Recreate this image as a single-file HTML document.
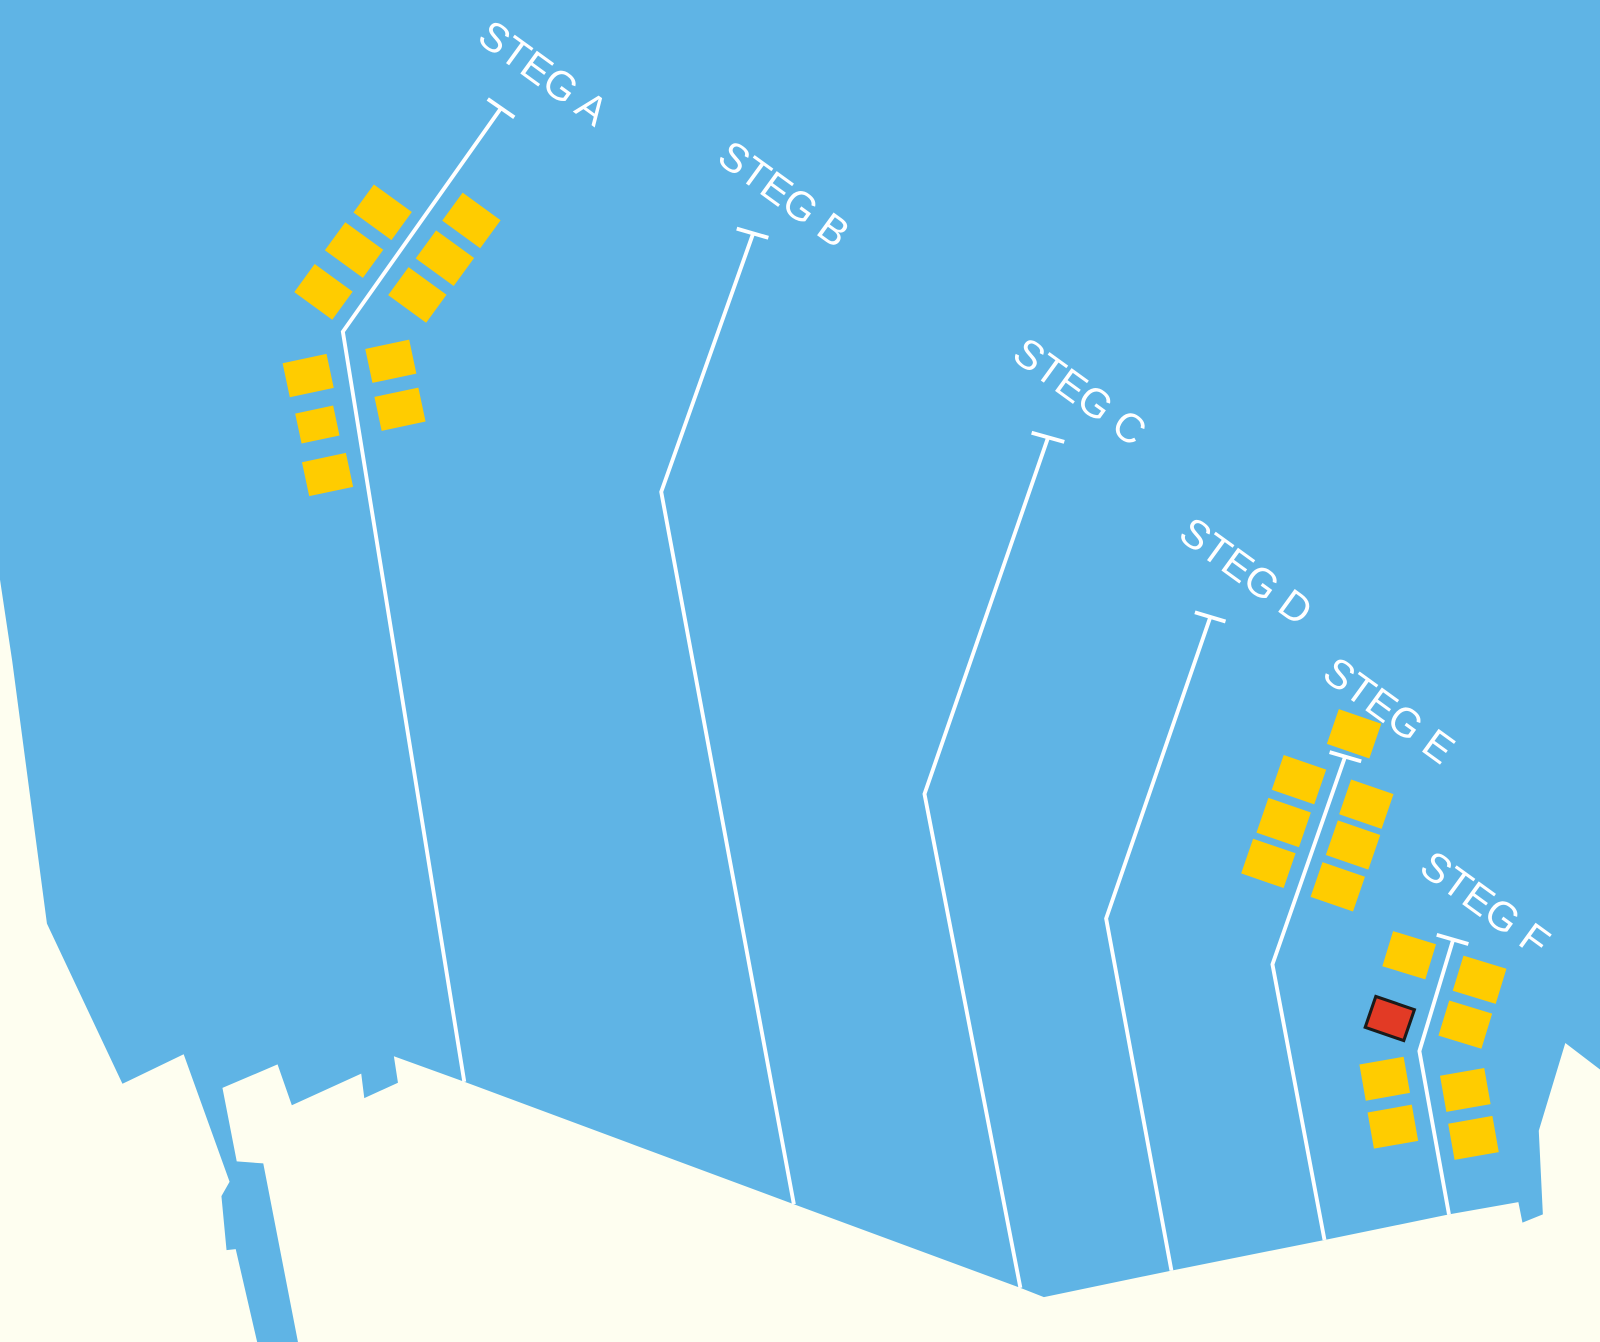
<!DOCTYPE html>
<html><head><meta charset="utf-8"><style>
html,body{margin:0;padding:0;background:#5fb4e5;}
svg{display:block;}
text{font-family:"Liberation Sans",sans-serif;font-size:40px;fill:#fff;letter-spacing:0px;}
</style></head><body>
<svg width="1600" height="1342" viewBox="0 0 1568 1315" preserveAspectRatio="none" xmlns="http://www.w3.org/2000/svg">
<rect width="1568" height="1315" fill="#5fb4e5"/>
<polygon fill="#fefef0" points="0,568 12,648 46,905 120,1062 180,1033 225,1158 217,1172 222,1225 231,1224 252,1315 0,1315"/>
<polygon fill="#fefef0" points="218,1066 272,1043 286,1083 354,1052 357,1076 390,1061 386,1035 455,1060 778,1180 1000,1262 1023,1271 1148,1245 1298,1215 1420,1190 1488,1178 1492,1198 1512,1190 1508,1108 1534,1022 1568,1048 1568,1315 292,1315 258,1140 232,1138"/>
<g stroke="#fff" stroke-width="3.8" fill="none">
<line x1="478" y1="97" x2="504" y2="115"/><polyline points="491,106 336,325 455,1060"/>
<line x1="722" y1="224" x2="753" y2="233"/><polyline points="738,229 648,482 778,1180"/>
<line x1="1011" y1="424" x2="1043" y2="433"/><polyline points="1027,429 906,778 1000,1262"/>
<line x1="1171" y1="600" x2="1201" y2="609"/><polyline points="1186,605 1084,900 1148,1245"/>
<line x1="1303" y1="737" x2="1334" y2="746"/><polyline points="1318,742 1247,945 1298,1215"/>
<line x1="1408" y1="916" x2="1439" y2="925"/><polyline points="1424,921 1391,1030 1420,1190"/>
</g>
<g fill="#ffcc00">
<g transform="translate(375,208) rotate(36)"><rect x="-23" y="-17" width="46" height="34"/></g>
<g transform="translate(347,245) rotate(36)"><rect x="-23" y="-17" width="46" height="34"/></g>
<g transform="translate(317,286) rotate(36)"><rect x="-23" y="-17" width="46" height="34"/></g>
<g transform="translate(462,216) rotate(36)"><rect x="-23" y="-17" width="46" height="34"/></g>
<g transform="translate(436,253) rotate(36)"><rect x="-23" y="-17" width="46" height="34"/></g>
<g transform="translate(409,289) rotate(36)"><rect x="-23" y="-17" width="46" height="34"/></g>
<g transform="translate(302,368) rotate(-12)"><rect x="-22" y="-17" width="44" height="34"/></g>
<g transform="translate(311,416) rotate(-12)"><rect x="-19" y="-15" width="38" height="30"/></g>
<g transform="translate(321,465) rotate(-12)"><rect x="-22" y="-17" width="44" height="34"/></g>
<g transform="translate(383,354) rotate(-12)"><rect x="-22" y="-17" width="44" height="34"/></g>
<g transform="translate(392,401) rotate(-12)"><rect x="-22" y="-17" width="44" height="34"/></g>
<g transform="translate(1327,719) rotate(19)"><rect x="-22" y="-18" width="44" height="36"/></g>
<g transform="translate(1273,764) rotate(19)"><rect x="-22" y="-18" width="44" height="36"/></g>
<g transform="translate(1258,806) rotate(19)"><rect x="-22" y="-18" width="44" height="36"/></g>
<g transform="translate(1243,846) rotate(19)"><rect x="-22" y="-18" width="44" height="36"/></g>
<g transform="translate(1339,788) rotate(19)"><rect x="-22" y="-18" width="44" height="36"/></g>
<g transform="translate(1326,828) rotate(19)"><rect x="-22" y="-18" width="44" height="36"/></g>
<g transform="translate(1311,869) rotate(19)"><rect x="-22" y="-18" width="44" height="36"/></g>
<g transform="translate(1381,936) rotate(17)"><rect x="-22" y="-18" width="44" height="36"/></g>
<g transform="translate(1450,960) rotate(17)"><rect x="-22" y="-18" width="44" height="36"/></g>
<g transform="translate(1436,1004) rotate(17)"><rect x="-22" y="-18" width="44" height="36"/></g>
<g transform="translate(1357,1057) rotate(-10)"><rect x="-22" y="-18" width="44" height="36"/></g>
<g transform="translate(1365,1104) rotate(-10)"><rect x="-22" y="-18" width="44" height="36"/></g>
<g transform="translate(1436,1068) rotate(-10)"><rect x="-22" y="-18" width="44" height="36"/></g>
<g transform="translate(1444,1115) rotate(-10)"><rect x="-22" y="-18" width="44" height="36"/></g>
</g>
<g transform="translate(1362,998) rotate(19)"><rect x="-20" y="-16" width="40" height="32" fill="#e23a25" stroke="#1a1a1a" stroke-width="3"/></g>
<text transform="translate(466,40) rotate(36)">STEG A</text>
<text transform="translate(701,158) rotate(36)">STEG B</text>
<text transform="translate(990,351) rotate(36)">STEG C</text>
<text transform="translate(1153,527) rotate(36)">STEG D</text>
<text transform="translate(1294,664) rotate(36)">STEG E</text>
<text transform="translate(1389,854) rotate(36)">STEG F</text>
</svg>
</body></html>
